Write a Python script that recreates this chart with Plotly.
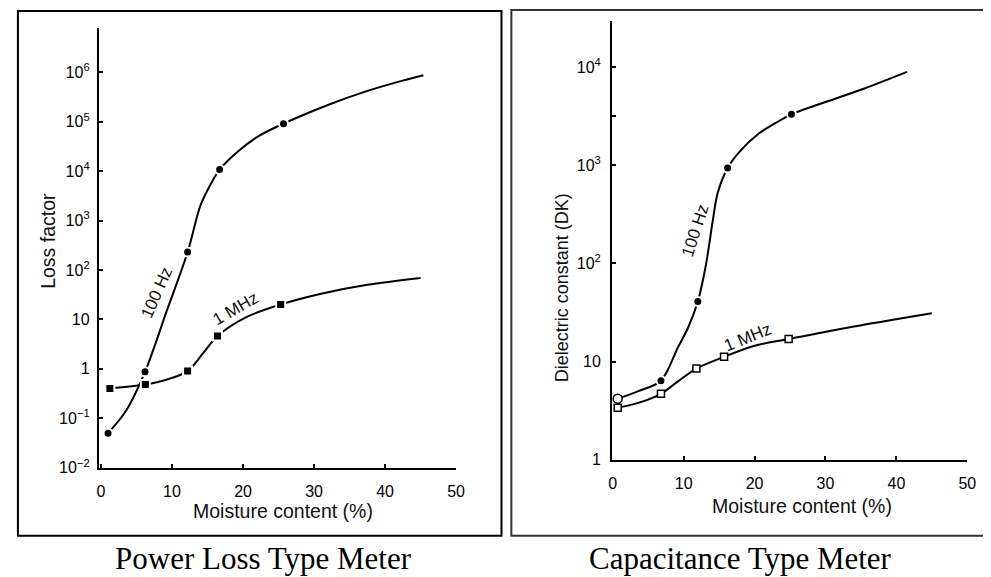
import plotly.graph_objects as go

# ---------------- data ----------------
# Left: power loss type meter (loss factor)
pl_100hz_curve_x = [1.0, 3.5, 6.2, 9.2, 12.2, 14.0, 15.5, 16.7, 19.4, 22.2, 25.7, 32.4, 37.1, 41.7, 45.4]
pl_100hz_curve_y = [0.05, 0.14, 0.87, 14, 230, 2000, 5600, 10700, 25700, 51000, 91000, 230000, 400000, 630000, 870000]
pl_100hz_pts_x = [1.0, 6.2, 12.2, 16.7, 25.7]
pl_100hz_pts_y = [0.05, 0.87, 230, 10700, 91000]

pl_1mhz_curve_x = [1.25, 6.25, 9.2, 12.2, 14.3, 16.4, 20.4, 25.3, 31.0, 37.5, 45.0]
pl_1mhz_curve_y = [0.4, 0.48, 0.6, 0.9, 2.0, 4.6, 11, 20, 33, 50, 69]
pl_1mhz_pts_x = [1.25, 6.25, 12.2, 16.4, 25.3]
pl_1mhz_pts_y = [0.4, 0.48, 0.9, 4.6, 20]

# Right: capacitance type meter (dielectric constant)
cap_100hz_curve_x = [0.7, 3.6, 6.8, 9.2, 10.6, 12.0, 13.1, 14.1, 14.8, 16.2, 17.8, 20.6, 23.4, 25.2, 29.4, 35.4, 41.5]
cap_100hz_curve_y = [4.2, 5.0, 6.4, 14, 22, 41, 93, 270, 520, 935, 1350, 2100, 2800, 3300, 4250, 6000, 8900]
cap_100hz_pts_x = [0.7, 6.8, 12.0, 16.2, 25.2]
cap_100hz_pts_y = [4.2, 6.4, 41, 935, 3300]

cap_1mhz_curve_x = [0.7, 3.6, 6.8, 9.2, 11.8, 15.7, 20.0, 24.8, 32.9, 45.0]
cap_1mhz_curve_y = [3.4, 3.8, 4.7, 6.3, 8.5, 11.2, 14.5, 17, 22, 31]
cap_1mhz_pts_x = [0.7, 6.8, 11.8, 15.7, 24.8]
cap_1mhz_pts_y = [3.4, 4.7, 8.5, 11.2, 17]

x_ticks = [0, 10, 20, 30, 40, 50]
pl_y_tickvals = [0.01, 0.1, 1, 10, 100, 1e3, 1e4, 1e5, 1e6]
pl_y_ticktext = ["10<sup>−2</sup>", "10<sup>−1</sup>", "1", "10", "10<sup>2</sup>",
                 "10<sup>3</sup>", "10<sup>4</sup>", "10<sup>5</sup>", "10<sup>6</sup>"]
cap_y_tickvals = [1, 10, 100, 1000, 3162, 10000]
cap_y_ticktext = ["1", "10", "10<sup>2</sup>", "10<sup>3</sup>", "", "10<sup>4</sup>"]

W, H = 991, 577
FONT = "Liberation Sans, Arial, sans-serif"
SERIF = "Liberation Serif, Times New Roman, serif"

def px(v):
    return v / W

def py(v):
    return 1 - v / H

fig = go.Figure()

line_style = dict(color="black", width=2, shape="spline", smoothing=0.9)
dot_marker = dict(color="black", size=9, line=dict(color="white", width=2))

# Left panel traces
fig.add_trace(go.Scatter(x=pl_100hz_curve_x, y=pl_100hz_curve_y, mode="lines",
                         line=line_style, xaxis="x", yaxis="y", hoverinfo="skip"))
fig.add_trace(go.Scatter(x=pl_100hz_pts_x, y=pl_100hz_pts_y, mode="markers",
                         marker=dot_marker, xaxis="x", yaxis="y"))
fig.add_trace(go.Scatter(x=pl_1mhz_curve_x, y=pl_1mhz_curve_y, mode="lines",
                         line=line_style, xaxis="x", yaxis="y", hoverinfo="skip"))
fig.add_trace(go.Scatter(x=pl_1mhz_pts_x, y=pl_1mhz_pts_y, mode="markers",
                         marker=dict(color="black", size=9, symbol="square",
                                     line=dict(color="white", width=2)),
                         xaxis="x", yaxis="y"))

# Right panel traces
fig.add_trace(go.Scatter(x=cap_100hz_curve_x, y=cap_100hz_curve_y, mode="lines",
                         line=line_style, xaxis="x2", yaxis="y2", hoverinfo="skip"))
fig.add_trace(go.Scatter(x=cap_100hz_pts_x, y=cap_100hz_pts_y, mode="markers",
                         marker=dict(color=["white", "black", "black", "black", "black"],
                                     size=9, symbol="circle",
                                     line=dict(color=["black", "white", "white", "white", "white"],
                                               width=[1.5, 2, 2, 2, 2])),
                         xaxis="x2", yaxis="y2"))
fig.add_trace(go.Scatter(x=cap_1mhz_curve_x, y=cap_1mhz_curve_y, mode="lines",
                         line=line_style, xaxis="x2", yaxis="y2", hoverinfo="skip"))
fig.add_trace(go.Scatter(x=cap_1mhz_pts_x, y=cap_1mhz_pts_y, mode="markers",
                         marker=dict(color="white", size=7, symbol="square",
                                     line=dict(color="black", width=1.5)),
                         xaxis="x2", yaxis="y2"))

axis_common = dict(showline=True, linecolor="black", linewidth=2, showgrid=False,
                   zeroline=False, ticks="inside", ticklen=4, tickwidth=1.5,
                   tickcolor="black", tickfont=dict(family=FONT, size=16, color="black"))

fig.update_layout(
    width=W, height=H,
    margin=dict(l=0, r=0, t=0, b=0),
    paper_bgcolor="white", plot_bgcolor="white",
    showlegend=False,
    xaxis=dict(domain=[px(88), px(450)], range=[-0.3, 50], tickvals=x_ticks,
               anchor="y", ticklabelstandoff=8, **axis_common),
    yaxis=dict(domain=[py(467), py(20)], type="log", range=[-2, 6.9],
               tickvals=pl_y_tickvals, ticktext=pl_y_ticktext, anchor="x",
               ticklabelstandoff=4, **axis_common),
    xaxis2=dict(domain=[px(608), px(968)], range=[-0.1, 50], tickvals=x_ticks,
                anchor="y2", ticklabelstandoff=8, **axis_common),
    yaxis2=dict(domain=[py(459), py(13)], type="log", range=[0, 4.47],
                tickvals=cap_y_tickvals, ticktext=cap_y_ticktext, anchor="x2",
                ticklabelstandoff=6, **axis_common),
)

# Panel frames
fig.add_shape(type="rect", xref="paper", yref="paper",
              x0=px(6), x1=px(496), y0=py(536), y1=py(3),
              line=dict(color="black", width=2))
fig.add_shape(type="rect", xref="paper", yref="paper",
              x0=px(506), x1=px(989), y0=py(536), y1=py(2),
              line=dict(color="#333", width=2))

title_font = dict(family=FONT, size=19.5, color="#111")
dk_font = dict(family=FONT, size=18, color="#111")
lbl_font = dict(family=FONT, size=17, color="#111")

annotations = [
    # axis titles
    dict(text="Loss factor", x=px(37), y=py(237), xref="paper", yref="paper",
         textangle=-90, showarrow=False, font=title_font, xanchor="center", yanchor="middle"),
    dict(text="Moisture content (%)", x=px(275), y=py(511), xref="paper", yref="paper",
         showarrow=False, font=title_font, xanchor="center", yanchor="middle"),
    dict(text="Dielectric constant (DK)", x=px(557), y=py(284), xref="paper", yref="paper",
         textangle=-90, showarrow=False, font=dk_font, xanchor="center", yanchor="middle"),
    dict(text="Moisture content (%)", x=px(801), y=py(506), xref="paper", yref="paper",
         showarrow=False, font=title_font, xanchor="center", yanchor="middle"),
    # curve labels
    dict(text="100 Hz", x=7.9, y=1.54, xref="x", yref="y", textangle=-66,
         showarrow=False, font=lbl_font),
    dict(text="1 MHz", x=19.0, y=1.22, xref="x", yref="y", textangle=-30,
         showarrow=False, font=lbl_font),
    dict(text="100 Hz", x=11.7, y=2.33, xref="x2", yref="y2", textangle=-72,
         showarrow=False, font=lbl_font),
    dict(text="1 MHz", x=19.0, y=1.25, xref="x2", yref="y2", textangle=-22,
         showarrow=False, font=lbl_font),
    # captions
    dict(text="Power Loss Type Meter", x=px(255), y=py(559), xref="paper", yref="paper",
         showarrow=False, font=dict(family=SERIF, size=31, color="black"),
         xanchor="center", yanchor="middle"),
    dict(text="Capacitance Type Meter", x=px(738), y=py(559), xref="paper", yref="paper",
         showarrow=False, font=dict(family=SERIF, size=31, color="black"),
         xanchor="center", yanchor="middle"),
]
fig.update_layout(annotations=annotations)

fig.write_html("out.html")
